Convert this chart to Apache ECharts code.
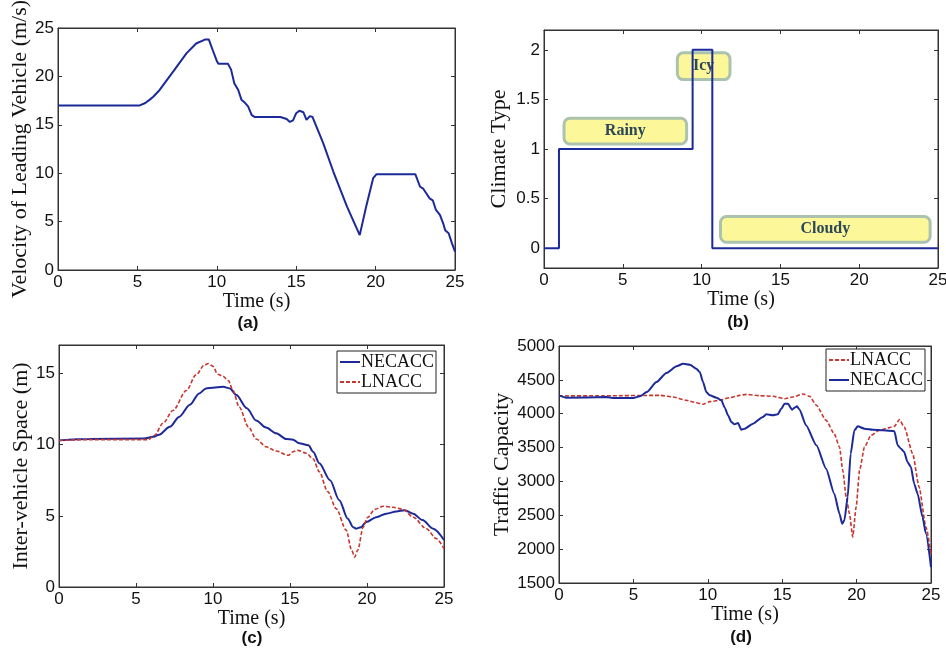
<!DOCTYPE html>
<html>
<head>
<meta charset="utf-8">
<script src="https://cdn.jsdelivr.net/npm/echarts@6/dist/echarts.min.js"></script>
<style>
html,body{margin:0;padding:0;background:#fff;}
#chart{width:946px;height:653px;}
</style>
</head>
<body>
<div id="chart"></div>
<script>
// ---------- DATA ----------
// (a) Velocity of leading vehicle
const velTime  = [0, 5.15, 5.5, 5.78, 6.0, 6.4, 7.25, 8.1, 8.7, 9.25, 9.5, 9.77, 10.0, 10.1, 10.7, 10.9, 11.1, 11.35, 11.55, 11.76, 11.97, 12.2, 12.4, 14.0, 14.4, 14.6, 14.8, 15.0, 15.2, 15.45, 15.65, 15.86, 16.03, 16.7, 17.33, 18.2, 19.0, 19.4, 19.85, 20.06, 22.5, 22.8, 23.0, 23.2, 23.4, 23.6, 23.8, 24.05, 24.26, 24.38, 24.6, 24.8, 25];
const velValue = [17, 17, 17.25, 17.6, 17.9, 18.6, 20.5, 22.4, 23.4, 23.8, 23.8, 22.6, 21.6, 21.3, 21.3, 20.7, 19.3, 18.6, 17.6, 17.3, 16.9, 16.0, 15.8, 15.8, 15.6, 15.3, 15.45, 16.2, 16.45, 16.3, 15.5, 15.9, 15.8, 13.1, 10.2, 6.55, 3.6, 6.5, 9.5, 9.9, 9.9, 8.6, 8.4, 7.9, 7.4, 7.2, 6.2, 5.7, 4.8, 4.1, 3.8, 2.8, 1.9];

// (b) Climate type (step)
const climateTime  = [0, 0.95, 9.43, 10.68, 25];
const climateValue = [0, 1, 2, 0, 0];
const climateNames = ['Rainy', 'Icy', 'Cloudy'];
const climateBoxX0 = [1.27, 8.46, 11.2];
const climateBoxX1 = [9.05, 11.8, 24.5];
const climateBoxY0 = [1.05, 1.70, 0.06];
const climateBoxY1 = [1.31, 1.97, 0.32];

// (c) Inter-vehicle space
const spaceNeTime  = [0, 2, 5.5, 6.1, 6.5, 7.2, 7.8, 8.5, 9.1, 9.55, 10.0, 10.65, 11.1, 11.5, 12.2, 12.8, 13.45, 14.1, 14.75, 15.2, 15.6, 16.2, 16.5, 16.9, 17.6, 18.2, 18.75, 19.1, 19.3, 19.6, 19.95, 20.6, 21.25, 21.9, 22.45, 23.0, 23.6, 24.3, 25];
const spaceNeValue = [10.3, 10.4, 10.43, 10.55, 10.7, 11.25, 11.95, 12.8, 13.6, 13.95, 14.0, 14.06, 13.95, 13.5, 12.55, 11.7, 11.2, 10.8, 10.4, 10.35, 10.1, 9.95, 9.5, 8.7, 7.5, 6.1, 4.8, 4.2, 4.1, 4.2, 4.57, 4.9, 5.15, 5.3, 5.4, 5.15, 4.7, 4.1, 3.3];
const spaceLnTime  = [0, 2, 5.8, 6.2, 6.75, 7.4, 8.27, 8.9, 9.45, 9.7, 10.0, 10.3, 10.65, 11.0, 11.3, 11.7, 12.3, 12.8, 13.45, 14.1, 14.9, 15.2, 15.5, 16.05, 16.5, 16.9, 17.45, 18.0, 18.65, 19.0, 19.2, 19.4, 19.75, 20.05, 20.5, 21.05, 21.7, 22.35, 23.0, 23.85, 24.5, 25];
const spaceLnValue = [10.3, 10.35, 10.35, 10.65, 11.5, 12.4, 13.8, 14.9, 15.6, 15.7, 15.5, 14.95, 14.8, 14.5, 13.8, 12.65, 11.25, 10.4, 9.85, 9.55, 9.25, 9.5, 9.6, 9.4, 9.0, 8.1, 6.7, 5.5, 4.0, 2.6, 2.1, 2.6, 4.2, 4.9, 5.45, 5.67, 5.6, 5.45, 4.9, 4.1, 3.4, 2.7];

// (d) Traffic capacity
const capLnTime  = [0, 3, 6.8, 7.67, 8.56, 9.23, 9.68, 10.13, 10.8, 11.47, 12.14, 12.6, 13.5, 14.4, 15.16, 15.7, 16.4, 16.84, 17.3, 17.95, 18.5, 18.85, 19.07, 19.3, 19.52, 19.74, 19.97, 20.2, 20.53, 20.97, 21.5, 22.2, 22.54, 22.88, 23.2, 23.77, 24.2, 24.66, 25];
const capLnValue = [4262, 4265, 4271, 4247, 4198, 4163, 4139, 4178, 4198, 4237, 4271, 4286, 4266, 4257, 4222, 4247, 4291, 4257, 4124, 3902, 3705, 3508, 3164, 2770, 2524, 2179, 2622, 3164, 3508, 3680, 3754, 3794, 3814, 3912, 3804, 3410, 2918, 2327, 1933];
const capNeTime  = [0, 0.5, 3.2, 3.6, 5.0, 5.43, 5.9, 6.55, 7.22, 7.9, 8.34, 8.8, 9.23, 9.46, 9.68, 9.9, 10.13, 10.58, 10.91, 11.14, 11.36, 11.58, 11.8, 12.03, 12.25, 12.48, 13.04, 13.7, 13.93, 14.38, 14.7, 14.94, 15.16, 15.38, 15.67, 15.83, 15.99, 16.17, 16.6, 17.3, 17.95, 18.5, 18.85, 19.03, 19.18, 19.4, 19.6, 19.85, 20.08, 20.53, 21.1, 21.77, 22.54, 22.76, 22.98, 23.2, 23.42, 23.65, 23.87, 24.1, 24.43, 24.66, 25];
const capNeValue = [4271, 4237, 4245, 4232, 4232, 4257, 4320, 4468, 4601, 4700, 4739, 4724, 4665, 4616, 4468, 4320, 4271, 4237, 4198, 4089, 3976, 3878, 3843, 3863, 3764, 3779, 3853, 3951, 3991, 3976, 3991, 4074, 4148, 4148, 4060, 4089, 4109, 4060, 3828, 3533, 3188, 2819, 2524, 2376, 2426, 2770, 3410, 3754, 3814, 3779, 3764, 3754, 3740, 3533, 3484, 3434, 3287, 3213, 2967, 2819, 2474, 2228, 1736];

// tick values
const xTicks = [0, 5, 10, 15, 20, 25];
const climateTicks = [0, 0.5, 1, 1.5, 2];
const spaceTicks = [0, 5, 10, 15];

// ---------- STYLE ----------
const SANS = '"Liberation Sans", Arial, sans-serif';
const SERIF = '"Liberation Serif", "Times New Roman", serif';
const BLUE = '#1c2a99';
const RED = '#c8362e';
const AXIS = '#333';

const zip = (a, b) => a.map((v, i) => [v, b[i]]);

const grids = [
  {left: 58,  top: 28,  width: 397, height: 242},
  {left: 544, top: 30,  width: 394, height: 238},
  {left: 59,  top: 345, width: 385, height: 242},
  {left: 559, top: 346, width: 372, height: 237}
].map(g => Object.assign({show: true, borderColor: AXIS, borderWidth: 1, backgroundColor: '#fff', containLabel: false, outerBoundsMode: 'none'}, g));

const plain = v => String(v);

const xGaps = [22, 22, 21, 20];
function xAxisCfg(i, top) {
  return {
    type: 'value', gridIndex: i, position: top ? 'top' : 'bottom',
    min: 0, max: 25, interval: 5,
    name: top ? '' : 'Time (s)', nameLocation: 'middle', nameGap: xGaps[i],
    nameTextStyle: {fontFamily: SERIF, fontSize: 20, color: '#111'},
    axisLine: {show: true, onZero: false, lineStyle: {color: AXIS, width: 1}},
    axisTick: {show: true, inside: true, length: 4, lineStyle: {color: AXIS}},
    axisLabel: {show: !top, margin: 4, fontFamily: SANS, fontSize: 17, color: '#111', formatter: plain},
    splitLine: {show: false}
  };
}
const yInfo = [
  {min: 0, max: 25, interval: 5, name: 'Velocity of Leading Vehicle (m/s)', gap: 25},
  {min: -0.2, max: 2.2, ticks: climateTicks, name: 'Climate Type', gap: 34},
  {min: 0, max: 17, ticks: spaceTicks, name: 'Inter-vehicle Space (m)', gap: 26},
  {min: 1500, max: 5000, interval: 500, name: 'Traffic Capacity', gap: 46}
];
function yAxisCfg(i, right) {
  const y = yInfo[i];
  const cfg = {
    type: 'value', gridIndex: i, position: right ? 'right' : 'left',
    min: y.min, max: y.max,
    name: right ? '' : y.name, nameLocation: 'middle', nameGap: y.gap,
    nameTextStyle: {fontFamily: SERIF, fontSize: 22, color: '#111'},
    axisLine: {show: true, onZero: false, lineStyle: {color: AXIS, width: 1}},
    axisTick: {show: true, inside: true, length: 4, lineStyle: {color: AXIS}},
    axisLabel: {show: !right, margin: 4, fontFamily: SANS, fontSize: 17, color: '#111', formatter: plain},
    splitLine: {show: false}
  };
  if (y.interval) cfg.interval = y.interval;
  if (y.ticks) {
    cfg.axisTick.customValues = y.ticks;
    cfg.axisLabel.customValues = y.ticks;
  }
  return cfg;
}

const xAxes = [0,1,2,3].map(i => xAxisCfg(i, false)).concat([0,1,2,3].map(i => xAxisCfg(i, true)));
const yAxes = [0,1,2,3].map(i => yAxisCfg(i, false)).concat([0,1,2,3].map(i => yAxisCfg(i, true)));

const boxData = climateNames.map((n, i) => [climateBoxX0[i], climateBoxY0[i], climateBoxX1[i], climateBoxY1[i]]);

const legendBase = {
  orient: 'vertical', itemGap: 2, itemWidth: 20, itemHeight: 12,
  padding: [2, 2, 2, 2],
  borderColor: '#222', borderWidth: 1, backgroundColor: '#fff', borderRadius: 0,
  itemStyle: {opacity: 0, borderWidth: 0},
  textStyle: {fontFamily: SERIF, fontSize: 18, color: '#111', padding: [0, 0, 0, -4]}
};

const option = {
  animation: false,
  backgroundColor: '#fff',
  grid: grids,
  xAxis: xAxes,
  yAxis: yAxes,
  legend: [
    Object.assign({}, legendBase, {data: ['NECACC', 'LNACC'], left: 337, top: 351}),
    Object.assign({}, legendBase, {data: ['LNACC', 'NECACC'], left: 826, top: 349})
  ],
  graphic: [
    {type: 'text', x: 248, y: 323, style: {text: '(a)', font: 'bold 17px ' + SANS, fill: '#111', align: 'center', verticalAlign: 'middle'}},
    {type: 'text', x: 738, y: 322, style: {text: '(b)', font: 'bold 17px ' + SANS, fill: '#111', align: 'center', verticalAlign: 'middle'}},
    {type: 'text', x: 252, y: 638, style: {text: '(c)', font: 'bold 17px ' + SANS, fill: '#111', align: 'center', verticalAlign: 'middle'}},
    {type: 'text', x: 741, y: 637, style: {text: '(d)', font: 'bold 17px ' + SANS, fill: '#111', align: 'center', verticalAlign: 'middle'}}
  ],
  series: [
    {
      type: 'line', name: 'Velocity', xAxisIndex: 0, yAxisIndex: 0,
      data: zip(velTime, velValue), symbol: 'none',
      lineStyle: {color: BLUE, width: 2}, itemStyle: {color: BLUE}
    },
    {
      type: 'custom', name: 'ClimateBoxes', xAxisIndex: 1, yAxisIndex: 1,
      data: boxData, z: 1,
      renderItem: function (params, api) {
        const p0 = api.coord([api.value(0), api.value(3)]);
        const p1 = api.coord([api.value(2), api.value(1)]);
        return {
          type: 'rect',
          shape: {x: p0[0], y: p0[1], width: p1[0] - p0[0], height: p1[1] - p0[1], r: 6},
          style: {fill: '#fcf89a', stroke: '#abc2ad', lineWidth: 3},
          textContent: {
            style: {text: climateNames[params.dataIndex], font: 'bold 16px ' + SERIF, fill: '#2c4757'}
          },
          textConfig: {position: 'inside'}
        };
      }
    },
    {
      type: 'line', name: 'Climate', xAxisIndex: 1, yAxisIndex: 1,
      data: zip(climateTime, climateValue), step: 'end', symbol: 'none', z: 2,
      lineStyle: {color: BLUE, width: 2}, itemStyle: {color: BLUE}
    },
    {
      type: 'line', name: 'NECACC', xAxisIndex: 2, yAxisIndex: 2,
      data: zip(spaceNeTime, spaceNeValue), symbol: 'none', smooth: 0.3, smoothMonotone: 'x',
      lineStyle: {color: BLUE, width: 2}, itemStyle: {color: BLUE}
    },
    {
      type: 'line', name: 'LNACC', xAxisIndex: 2, yAxisIndex: 2,
      data: zip(spaceLnTime, spaceLnValue), symbol: 'none', smooth: 0.3, smoothMonotone: 'x',
      lineStyle: {color: RED, width: 1.6, type: [4, 2]}, itemStyle: {color: RED}
    },
    {
      type: 'line', name: 'LNACC', xAxisIndex: 3, yAxisIndex: 3,
      data: zip(capLnTime, capLnValue), symbol: 'none', smooth: 0.2, smoothMonotone: 'x',
      lineStyle: {color: RED, width: 1.6, type: [4, 2]}, itemStyle: {color: RED}
    },
    {
      type: 'line', name: 'NECACC', xAxisIndex: 3, yAxisIndex: 3,
      data: zip(capNeTime, capNeValue), symbol: 'none', smooth: 0.2, smoothMonotone: 'x',
      lineStyle: {color: BLUE, width: 2}, itemStyle: {color: BLUE}
    }
  ]
};

const chart = echarts.init(document.getElementById('chart'), null, {renderer: 'canvas'});
chart.setOption(option);
</script>
</body>
</html>
